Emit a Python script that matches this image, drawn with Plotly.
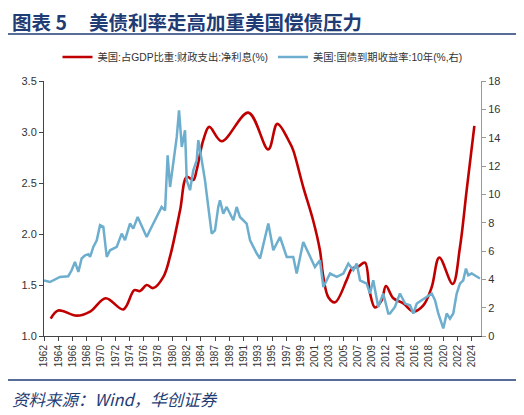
import plotly.graph_objects as go

# x positions are in tick-slot units: slot i sits under year_labels[i]
year_labels = ["1962", "1964", "1966", "1968", "1970", "1972", "1974", "1976",
               "1978", "1980", "1982", "1984", "1987", "1989", "1991", "1993",
               "1995", "1997", "1999", "2001", "2003", "2005", "2007", "2009",
               "2012", "2014", "2016", "2018", "2020", "2022", "2024"]

interest_x = [0.47, 1.00, 2.29, 3.23, 4.33, 5.56, 6.33, 6.73, 7.20, 7.66, 8.37,
              8.84, 9.54, 10.01, 10.47, 10.71, 11.17, 11.59, 12.46, 14.33, 15.73,
              16.36, 17.25, 17.48, 18.18, 18.88, 19.35, 19.59, 19.94, 20.41, 21.23,
              21.58, 22.04, 22.51, 22.86, 23.21, 23.68, 23.98, 24.50, 25.20, 25.90,
              26.60, 27.19, 27.72, 28.66, 29.17, 29.64, 30.18]
interest_pct = [1.17, 1.25, 1.20, 1.24, 1.37, 1.26, 1.45, 1.44, 1.50, 1.47, 1.58,
                1.78, 2.23, 2.56, 2.53, 2.63, 2.92, 3.05, 2.91, 3.19, 2.83,
                3.08, 2.89, 2.82, 2.46, 2.13, 1.84, 1.58, 1.38, 1.33, 1.55,
                1.66, 1.68, 1.72, 1.42, 1.28, 1.35, 1.49, 1.37, 1.32, 1.24,
                1.30, 1.48, 1.77, 1.51, 1.87, 2.43, 3.06]

yield_x = [0.00, 0.42, 1.12, 1.70, 1.94, 2.17, 2.41, 2.64, 2.88, 3.11, 3.23, 3.46,
           3.70, 3.93, 4.16, 4.40, 4.63, 5.10, 5.45, 5.68, 6.03, 6.26, 6.57, 6.85,
           7.20, 7.43, 7.90, 8.25, 8.49, 8.67, 8.84, 9.07, 9.31, 9.47, 9.66, 9.89,
           10.01, 10.24, 10.47, 10.71, 10.82, 11.06, 11.29, 11.52, 11.76, 11.99,
           12.22, 12.34, 12.57, 12.81, 13.04, 13.28, 13.51, 13.74, 14.21, 14.45,
           14.92, 15.15, 15.73, 16.08, 16.55, 17.02, 17.48, 17.72, 18.18, 18.65,
           19.00, 19.35, 19.59, 20.06, 20.53, 20.99, 21.34, 21.69, 21.93, 22.16,
           22.63, 22.86, 23.09, 23.44, 23.79, 24.03, 24.14, 24.26, 24.61, 24.96,
           25.32, 25.67, 25.90, 26.14, 26.49, 26.84, 27.19, 27.42, 27.65, 27.89,
           28.00, 28.24, 28.47, 28.70, 28.94, 29.17, 29.40, 29.59, 29.75, 29.99,
           30.34, 30.57]
yield_10y = [3.93, 3.81, 4.17, 4.22, 4.64, 5.23, 4.52, 5.47, 5.70, 5.77, 5.58, 6.29,
             6.76, 7.82, 7.70, 5.58, 6.05, 6.29, 7.23, 6.76, 7.94, 7.58, 8.40, 7.82,
             6.99, 7.46, 8.40, 9.11, 8.87, 12.76, 10.52, 12.40, 14.05, 15.93, 13.34, 14.52,
             10.99, 10.29, 11.70, 12.40, 13.82, 12.40, 10.99, 9.11, 7.23, 7.46,
             9.11, 9.58, 8.64, 9.11, 8.64, 8.17, 9.11, 8.40, 7.94, 6.76,
             5.82, 5.47, 7.94, 6.05, 6.99, 5.58, 5.58, 4.41, 6.64, 5.58,
             4.87, 5.35, 3.46, 4.41, 4.17, 4.41, 5.11, 4.64, 5.11, 3.93,
             3.70, 3.00, 3.93, 2.05, 3.00, 2.05, 1.59, 1.59, 2.05, 3.00,
             2.29, 2.17, 1.59, 2.29, 2.52, 2.76, 3.00, 2.52, 1.59, 0.88,
             0.53, 1.59, 1.23, 1.59, 3.00, 3.70, 3.93, 4.76, 4.29, 4.41,
             4.17, 4.06]

# the page body has an 8px margin, so lay the figure out 8px up and left
OFF = 8
W, H = 524 - OFF, 415 - OFF
L, R, T, B = 44 - OFF, 481 - OFF, 81 - OFF, 336 - OFF
NAVY = "#1F3C74"


def px(x):
    return (x - OFF - L) / (R - L)


def py(y):
    return (B - (y - OFF)) / (B - T)


fig = go.Figure()
fig.add_trace(go.Scatter(
    x=interest_x, y=interest_pct, mode="lines", line_shape="spline",
    name="美国:占GDP比重:财政支出:净利息(%)",
    line=dict(color="#C00000", width=2.6),
))
fig.add_trace(go.Scatter(
    x=yield_x, y=yield_10y, mode="lines", yaxis="y2",
    name="美国:国债到期收益率:10年(%,右)",
    line=dict(color="#6DAECE", width=2.5),
))

axis_font = dict(family="Liberation Sans, Arial", size=11, color="#333")
fig.update_layout(
    width=W, height=H,
    margin=dict(l=L, r=W - R, t=T, b=H - B),
    paper_bgcolor="white", plot_bgcolor="white",
    font=dict(family="Liberation Sans, Noto Sans CJK SC", color="#333"),
    showlegend=True,
    legend=dict(orientation="h", x=0.5, xanchor="center", y=py(57), yanchor="middle",
                font=dict(size=10.3, family="Liberation Sans, Noto Sans CJK SC", color="#333"),
                itemwidth=30, tracegroupgap=0),
    xaxis=dict(
        range=[0, (R - L) / 14.26],
        tickmode="array", tickvals=list(range(len(year_labels))), ticktext=year_labels,
        tickangle=-90, tickfont=dict(family="Liberation Sans, Arial", size=10, color="#333"),
        showline=True, linecolor="#444", linewidth=1,
        ticks="outside", ticklen=4, tickcolor="#444",
        showgrid=False, zeroline=False,
    ),
    yaxis=dict(
        range=[1.0, 3.5], dtick=0.5, tickformat=".1f", tickfont=axis_font,
        showline=True, linecolor="#444", linewidth=1,
        ticks="outside", ticklen=4, tickcolor="#444",
        showgrid=False, zeroline=False,
    ),
    yaxis2=dict(
        range=[0, 18], dtick=2, overlaying="y", side="right", tickfont=axis_font,
        showline=True, linecolor="#999", linewidth=1,
        ticks="outside", ticklen=4, tickcolor="#999",
        showgrid=False, zeroline=False,
    ),
    shapes=[
        dict(type="line", xref="paper", yref="paper", x0=px(OFF), x1=px(518),
             y0=py(34), y1=py(34), line=dict(color=NAVY, width=1.6)),
        dict(type="line", xref="paper", yref="paper", x0=px(OFF), x1=px(518),
             y0=py(380), y1=py(380), line=dict(color=NAVY, width=1.6)),
    ],
    annotations=[
        dict(text="<b>图表 5" + "&nbsp;" * 5 + "美债利率走高加重美国偿债压力</b>",
             xref="paper", yref="paper",
             x=px(10), y=py(22), xanchor="left", yanchor="middle", showarrow=False,
             font=dict(family="Noto Sans CJK SC", size=19.5, color=NAVY)),
        dict(text="<i>资料来源：Wind，华创证券</i>", xref="paper", yref="paper",
             x=px(10), y=py(399), xanchor="left", yanchor="middle", showarrow=False,
             font=dict(family="Noto Sans CJK SC", size=16.5, color=NAVY)),
    ],
)

fig.write_html("out.html")
